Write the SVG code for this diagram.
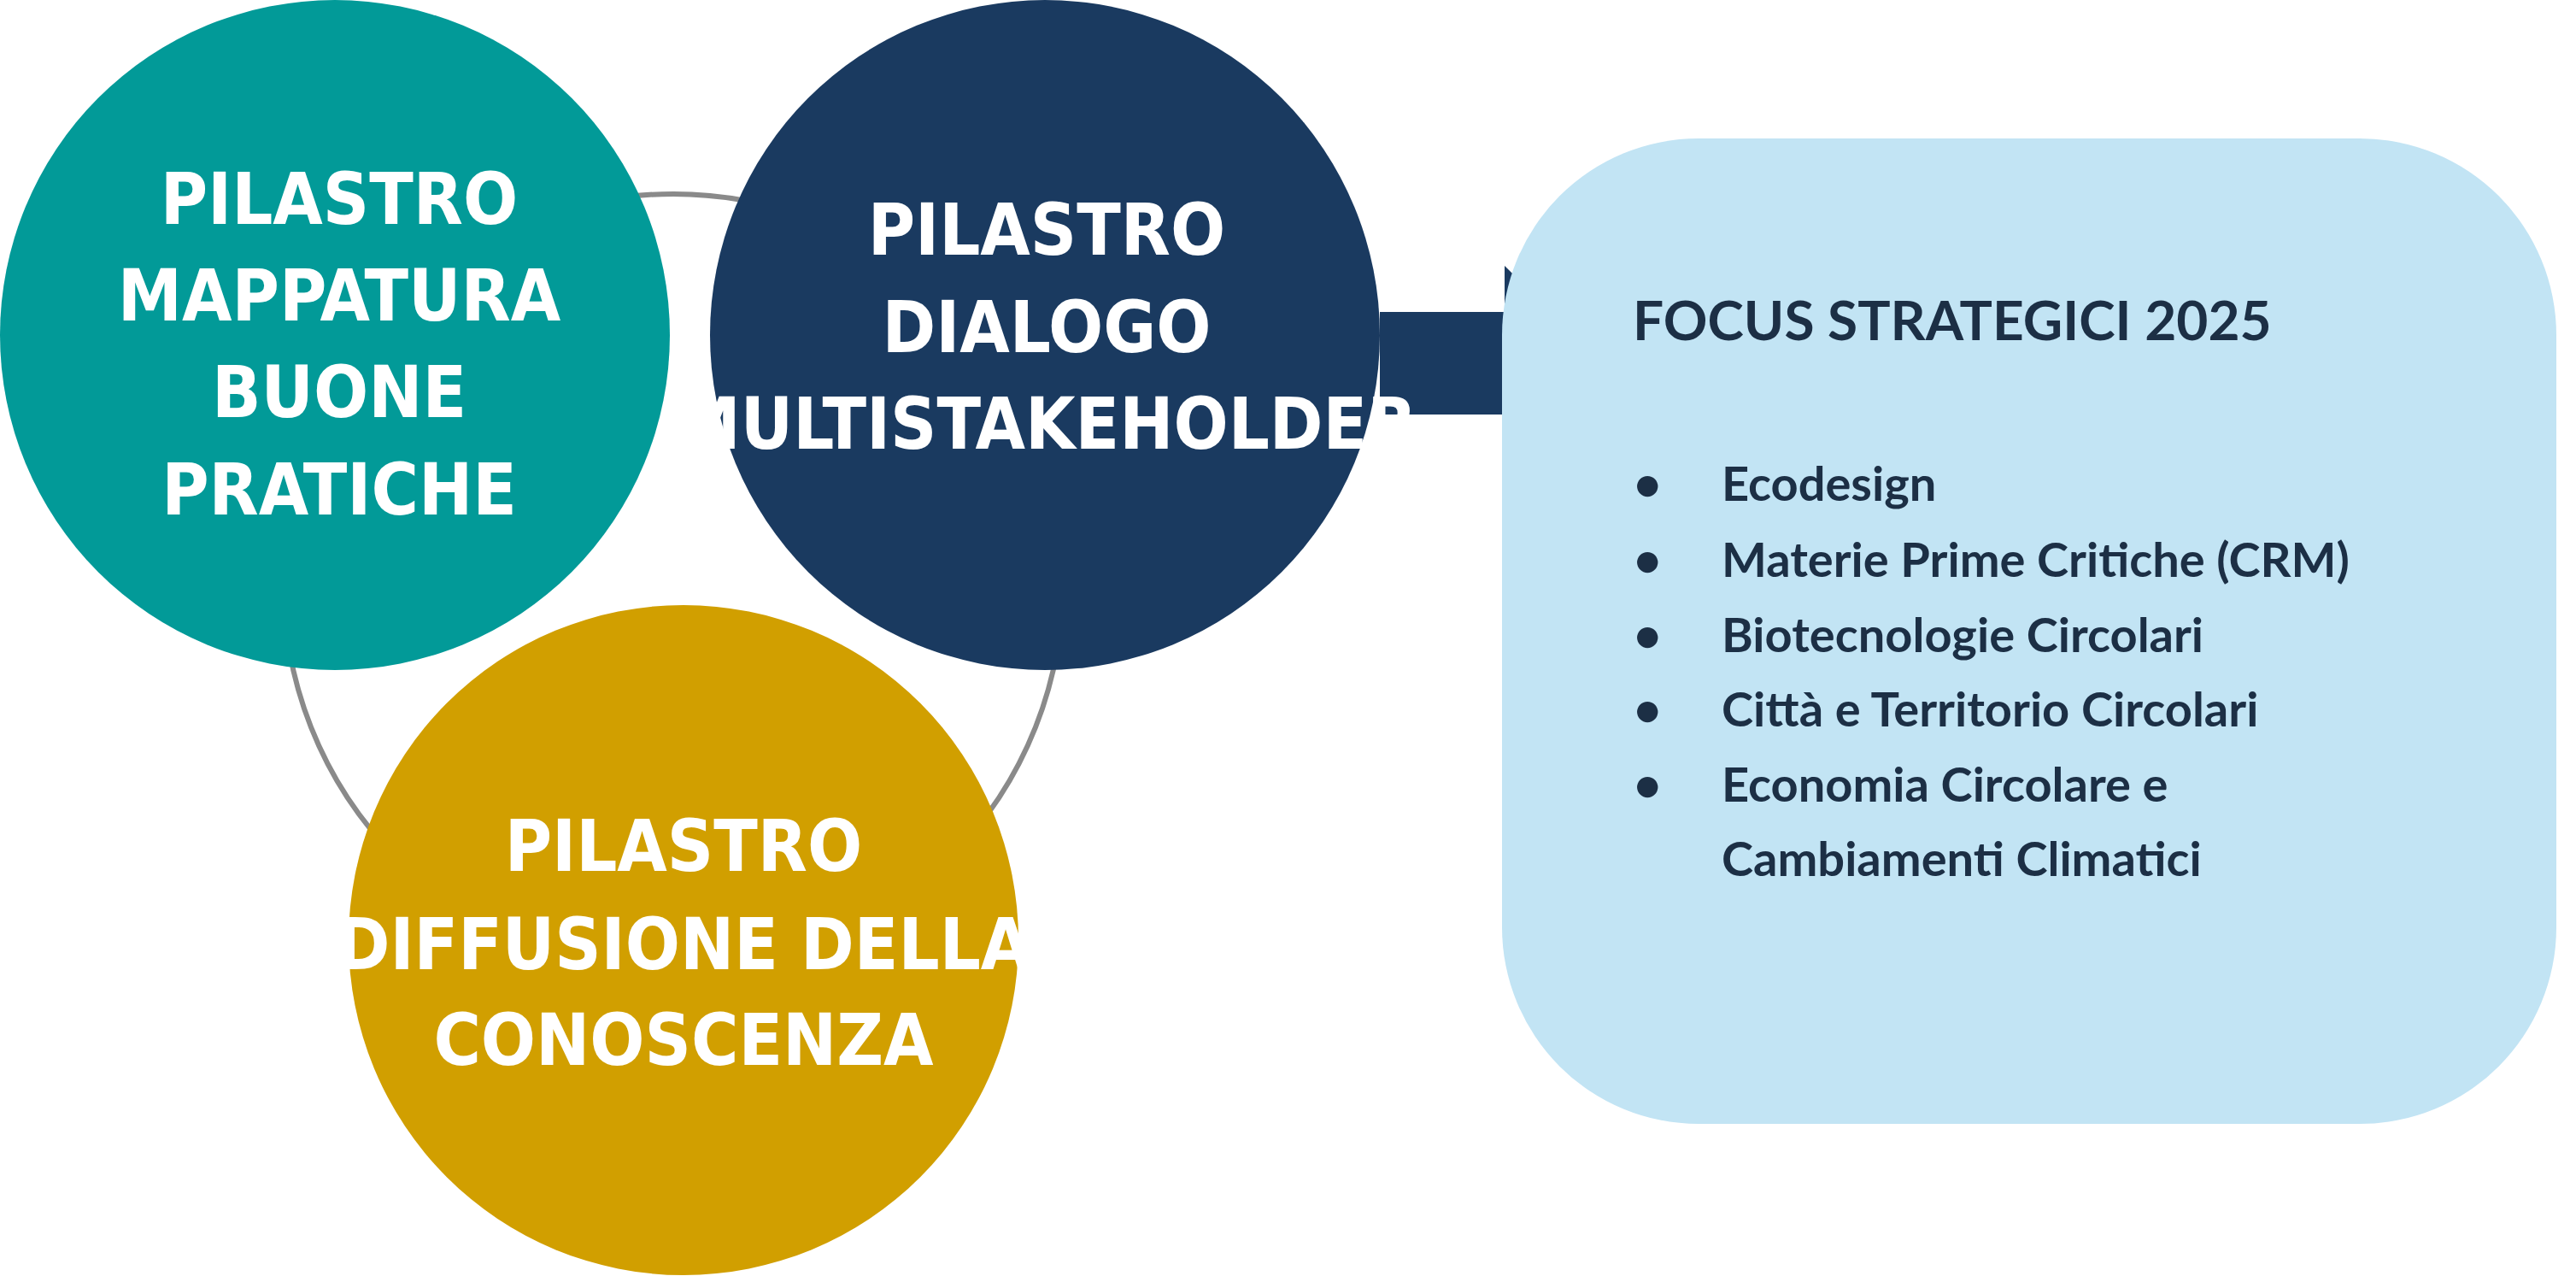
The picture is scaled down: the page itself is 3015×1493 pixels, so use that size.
<svg xmlns="http://www.w3.org/2000/svg" width="3015" height="1493" viewBox="0 0 3015 1493">
<style>
.ct{font-family:"Liberation Sans Narrow","DejaVu Sans Condensed","Liberation Sans",sans-serif;font-weight:bold;font-size:84px;fill:#fff;text-anchor:middle}
.ft{font-family:Lato,"Liberation Sans",sans-serif;font-weight:bold;fill:#1c2f45}
</style>
<rect width="3015" height="1493" fill="#fff"/>
<g id="connectors">
<circle cx="788" cy="683" r="456" fill="none" stroke="#8a8a8a" stroke-width="6"/>
<path d="M1615 365H1761V311L1877 425L1761 542V485H1615Z" fill="#1a3a60"/>
</g>
<g id="focus">
<rect x="1758" y="162" width="1234" height="1153" rx="230" fill="#c2e4f4"/>
<text class="ft" x="1911" y="398" font-size="64">FOCUS STRATEGICI 2025</text>
<g font-size="56" class="ft">
<text x="1912" y="586">•</text><text x="2015" y="586">Ecodesign</text>
<text x="1912" y="675">•</text><text x="2015" y="675">Materie Prime Critiche (CRM)</text>
<text x="1912" y="763">•</text><text x="2015" y="763">Biotecnologie Circolari</text>
<text x="1912" y="850">•</text><text x="2015" y="850">Città e Territorio Circolari</text>
<text x="1912" y="938">•</text><text x="2015" y="938">Economia Circolare e</text>
<text x="2015" y="1025">Cambiamenti Climatici</text>
</g>
</g>
<g id="mappatura">
<circle cx="392" cy="392" r="392" fill="#029a98"/>
<text class="ct" x="397" y="262">PILASTRO</text>
<text class="ct" x="397" y="375">MAPPATURA</text>
<text class="ct" x="397" y="488">BUONE</text>
<text class="ct" x="397" y="602">PRATICHE</text>
</g>
<g id="dialogo">
<circle cx="1223" cy="392" r="392" fill="#1a3a60"/>
<text class="ct" x="1225" y="298">PILASTRO</text>
<text class="ct" x="1225" y="412">DIALOGO</text>
<text class="ct" x="1225" y="525">MULTISTAKEHOLDER</text>
</g>
<g id="diffusione">
<circle cx="800" cy="1100" r="392" fill="#d19f00"/>
<text class="ct" x="800" y="1019">PILASTRO</text>
<text class="ct" x="800" y="1134">DIFFUSIONE DELLA</text>
<text class="ct" x="800" y="1246">CONOSCENZA</text>
</g>
</svg>
